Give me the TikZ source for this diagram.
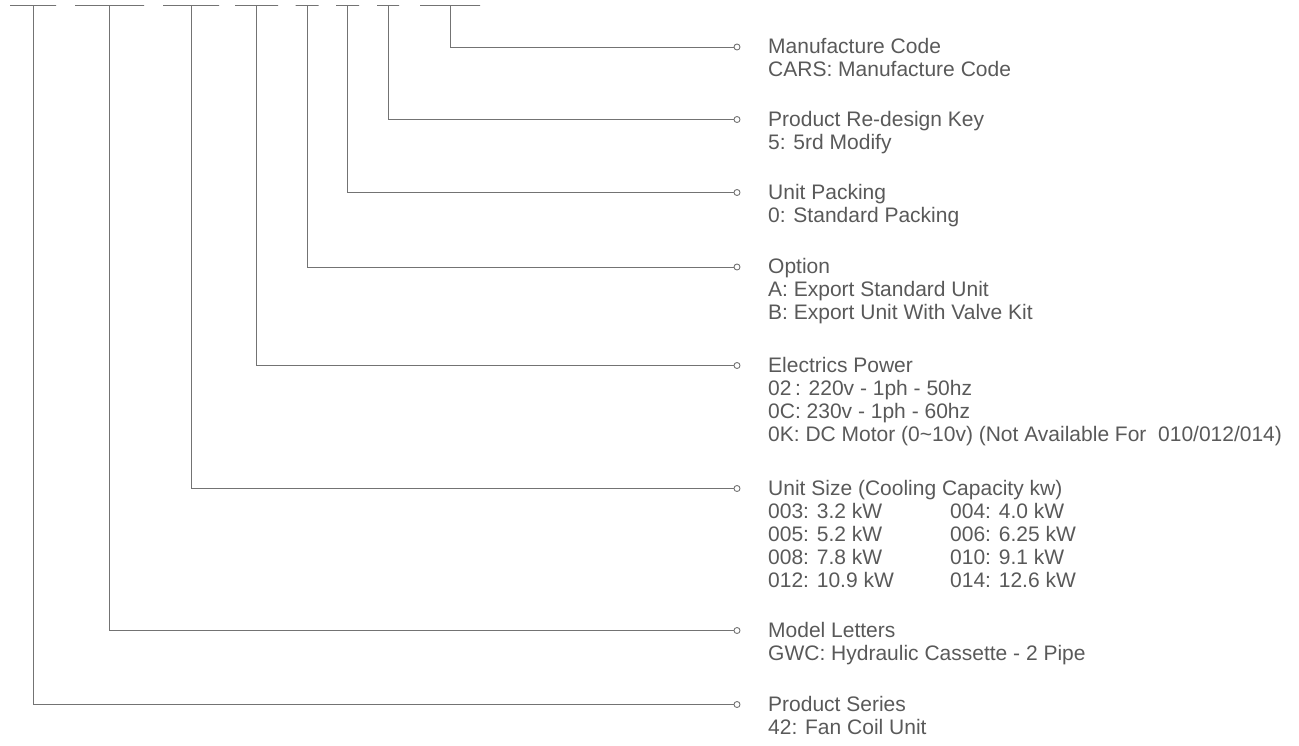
\documentclass[tikz,border=0pt]{standalone}
\usepackage{fontspec}
\setmainfont{Liberation Sans}
\definecolor{linegray}{HTML}{737373}
\definecolor{textgray}{HTML}{595959}
\newcommand{\col}[1]{\makebox[182pt][l]{#1}}

\begin{document}
\begin{tikzpicture}[
x=1pt, y=-1pt,
bar/.style={
draw=linegray,
line width=1pt,
inner sep=0pt,
minimum height=0pt,
minimum width=#1
},
tip/.style={
circle,
draw=linegray,
fill=white,
line width=0.9pt,
minimum size=6pt,
inner sep=0pt
},
label/.style={
anchor=north west,
align=left,
inner sep=0pt,
text=textgray,
font=\fontsize{21}{23}\selectfont,
execute at begin node=\strut
},
link/.style={
draw=linegray,
line width=1pt
}
]
\useasboundingbox (0,0) rectangle (1299,745);

% code bars
\node[bar=46] (b1) at (33,5.7) {};
\node[bar=69] (b2) at (109.5,5.7) {};
\node[bar=56] (b3) at (191,5.7) {};
\node[bar=43] (b4) at (256.5,5.7) {};
\node[bar=23] (b5) at (307,5.7) {};
\node[bar=23] (b6) at (347.5,5.7) {};
\node[bar=22] (b7) at (388,5.7) {};
\node[bar=60] (b8) at (450,5.7) {};

% end marks
\node[tip] (Mc) at (737,47) {};
\node[tip] (Rd) at (737,119.5) {};
\node[tip] (Up) at (737,192.5) {};
\node[tip] (Op) at (737,267) {};
\node[tip] (Ep) at (737,365.5) {};
\node[tip] (Us) at (737,488.5) {};
\node[tip] (Ml) at (737,630.5) {};
\node[tip] (Ps) at (737,704.5) {};

% descriptions
\node[label] (McT) at (768,38.4) {Manufacture Code\\CARS: Manufacture Code};
\node[label] (RdT) at (768,110.9) {Product Re-design Key\\5: 5rd Modify};
\node[label] (UpT) at (768,183.9) {Unit Packing\\0: Standard Packing};
\node[label] (OpT) at (768,258.4) {Option\\A: Export Standard Unit\\B: Export Unit With Valve Kit};
\node[label] (EpT) at (768,356.9) {Electrics Power\\02\,: 220v - 1ph - 50hz\\0C: 230v - 1ph - 60hz\\0K: DC Motor (0\textasciitilde10v) (Not Available For\ \ 010/012/014)};
\node[label] (UsT) at (768,479.9) {Unit Size (Cooling Capacity kw)\\\col{003: 3.2 kW}004: 4.0 kW\\\col{005: 5.2 kW}006: 6.25 kW\\\col{008: 7.8 kW}010: 9.1 kW\\\col{012: 10.9 kW}014: 12.6 kW};
\node[label] (MlT) at (768,621.9) {Model Letters\\GWC: Hydraulic Cassette - 2 Pipe};
\node[label] (PsT) at (768,695.9) {Product Series\\42: Fan Coil Unit};

\draw[link] (b8.center) |- (Mc.west);
\draw[link] (b7.center) |- (Rd.west);
\draw[link] (b6.center) |- (Up.west);
\draw[link] (b5.center) |- (Op.west);
\draw[link] (b4.center) |- (Ep.west);
\draw[link] (b3.center) |- (Us.west);
\draw[link] (b2.center) |- (Ml.west);
\draw[link] (b1.center) |- (Ps.west);

\end{tikzpicture}
\end{document}
